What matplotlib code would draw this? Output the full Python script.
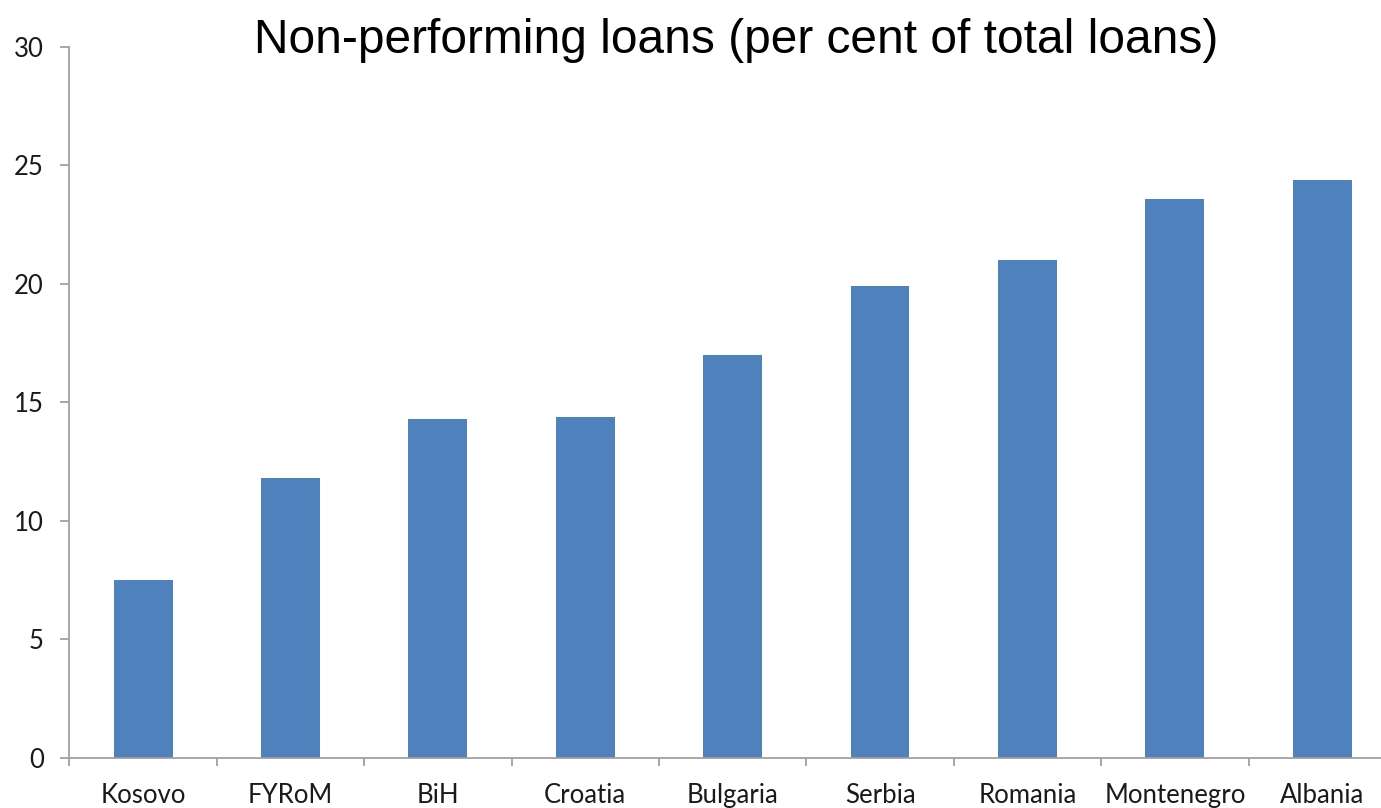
import matplotlib.pyplot as plt
import numpy as np

countries = ['Kosovo', 'FYRoM', 'BiH', 'Croatia', 'Bulgaria', 'Serbia',
             'Romania', 'Montenegro', 'Albania']
npl = [7.5, 11.8, 14.3, 14.4, 17.0, 19.9, 21.0, 23.6, 24.4]
yticks = [0, 5, 10, 15, 20, 25, 30]

fig = plt.figure(figsize=(13.81, 8.08), dpi=100)
ax = fig.add_axes([0.0502, 0.0619, 0.9606, 0.880])

x = np.arange(len(countries))
ax.bar(x, npl, width=0.4, color='#4F81BD')

ax.set_xlim(-0.5, len(countries) - 0.5)
ax.set_ylim(0, 30)

for s in ['top', 'right']:
    ax.spines[s].set_visible(False)
for s in ['left', 'bottom']:
    ax.spines[s].set_color('#A0A0A0')
    ax.spines[s].set_linewidth(1.3)

ax.set_yticks(yticks)
ax.set_xticks(x)
ax.set_xticklabels(countries)
ax.set_xticks(np.arange(len(countries) + 1) - 0.5, minor=True)
ax.tick_params(axis='x', which='major', length=0, pad=18)
ax.tick_params(axis='x', which='minor', length=6, width=1.3, color='#A0A0A0', direction='out')
ax.tick_params(axis='y', length=6.5, width=1.3, color='#A0A0A0', pad=12)
for lab in ax.get_xticklabels() + ax.get_yticklabels():
    lab.set_fontfamily('Lato')
    lab.set_fontsize(18.5)
    lab.set_color('#1a1a1a')

fig.text(0.533, 0.95, 'Non-performing loans (per cent of total loans)',
         fontfamily='Liberation Sans', fontsize=34.5, ha='center', va='center')

plt.savefig('out.png', dpi=100)
